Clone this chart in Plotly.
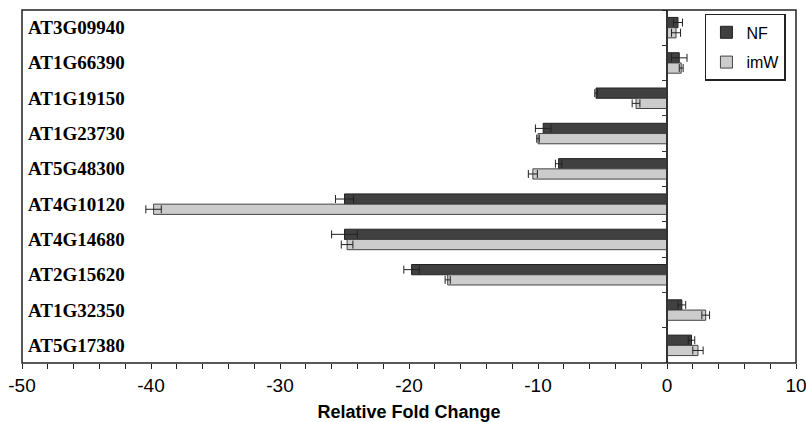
import plotly.graph_objects as go

genes = ["AT3G09940", "AT1G66390", "AT1G19150", "AT1G23730", "AT5G48300",
         "AT4G10120", "AT4G14680", "AT2G15620", "AT1G32350", "AT5G17380"]
nf = [0.85, 0.95, -5.5, -9.6, -8.4, -25.0, -25.0, -19.8, 1.15, 1.9]
nf_err = [0.35, 0.6, 0.1, 0.6, 0.25, 0.7, 1.0, 0.6, 0.3, 0.25]
imw = [0.7, 1.1, -2.4, -10.0, -10.4, -39.8, -24.8, -17.0, 3.0, 2.4]
imw_err = [0.35, 0.15, 0.3, 0.1, 0.35, 0.6, 0.45, 0.2, 0.3, 0.4]
tick_vals = [-50, -40, -30, -20, -10, 0, 10]
tick_text = ["-50", "-40", "-30", "-20", "-10", "0", "10"]

xmin, xmax = -50, 10

fig = go.Figure()
fig.add_trace(go.Bar(
    y=genes, x=nf, orientation="h", name="NF", legendgroup="nf",
    marker=dict(color="#404040", line=dict(color="#222222", width=1)),
    error_x=dict(type="data", array=nf_err, visible=True, color="#222222", thickness=1, width=4),
))
fig.add_trace(go.Bar(
    y=genes, x=imw, orientation="h", name="imW", legendgroup="imw",
    marker=dict(color="#cccccc", line=dict(color="#444444", width=1)),
    error_x=dict(type="data", array=imw_err, visible=True, color="#222222", thickness=1, width=4),
))

for g in genes:
    fig.add_annotation(x=xmin, y=g, xref="x", yref="y", text=g, showarrow=False,
                       xanchor="left", xshift=4,
                       font=dict(family="Liberation Serif", size=19, color="black", weight="bold"))

zero_pos = (0 - xmin) / (xmax - xmin)

fig.update_layout(
    width=806, height=422,
    margin=dict(l=22, r=10, t=10, b=59),
    paper_bgcolor="white", plot_bgcolor="white",
    barmode="group", bargap=0.42, bargroupgap=0,
    font=dict(family="Liberation Sans, Arial", color="black"),
    xaxis=dict(range=[xmin, xmax], tickmode="array", tickvals=tick_vals, ticktext=tick_text,
               ticks="outside", ticklen=5, automargin=False, ticklabeloverflow="allow",
               tickcolor="#222222", showgrid=False, zeroline=False, showline=False,
               tickfont=dict(size=19, family="Liberation Sans"),
               minor=dict(dtick=2, tick0=0, ticks="outside", ticklen=5, tickcolor="#222222"),
               title=dict(text="<b>Relative Fold Change</b>", font=dict(size=18, family="Liberation Sans"), standoff=10)),
    yaxis=dict(autorange="reversed", anchor="free", position=zero_pos, showticklabels=False,
               automargin=False,
               showline=True, linecolor="#333333", linewidth=1.5, ticks="outside", ticklen=4,
               tickcolor="#333333", tickson="boundaries", showgrid=False, zeroline=False),
    legend=dict(x=0.987, y=0.989, xanchor="right", yanchor="top", bordercolor="#222222",
                borderwidth=1.5, bgcolor="white", font=dict(size=16, family="Liberation Sans"),
                traceorder="grouped", tracegroupgap=6, itemwidth=30),
    shapes=[dict(type="rect", xref="paper", yref="paper", x0=0, x1=1, y0=0, y1=1,
                 line=dict(color="#222222", width=1.5), layer="above")],
)

fig.write_html("out.html")
